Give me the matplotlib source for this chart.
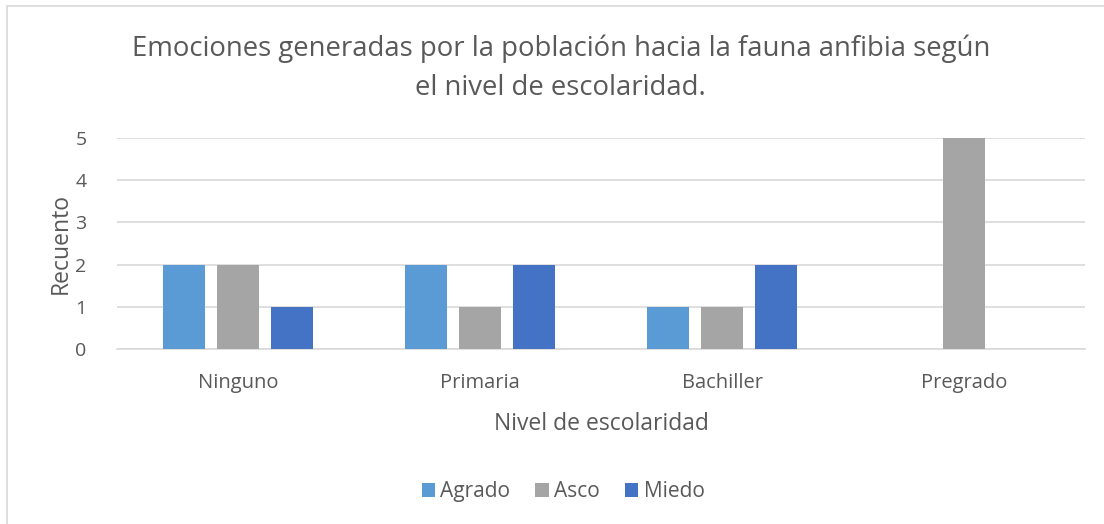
import numpy as np
import matplotlib
matplotlib.use("Agg")
import matplotlib.pyplot as plt
from matplotlib.patches import Rectangle

categories = ["Ninguno", "Primaria", "Bachiller", "Pregrado"]
series = ["Agrado", "Asco", "Miedo"]
agrado = [2, 2, 1, 0]
asco = [2, 1, 1, 5]
miedo = [1, 2, 2, 0]
yticks = [0, 1, 2, 3, 4, 5]

colors = ["#5B9BD5", "#A5A5A5", "#4472C4"]
txt = "#595959"

plt.rcParams['font.family'] = ['Open Sans', 'DejaVu Sans']

fig = plt.figure(figsize=(11.04, 5.24), dpi=100)
ax = fig.add_axes([0.106, 0.334, 0.877, 0.403])

x = np.arange(len(categories))
w = 0.174
offs = [-0.223, 0.0, 0.223]
for vals, off, c, name in zip([agrado, asco, miedo], offs, colors, series):
    ax.bar(x + off, vals, width=w, color=c, label=name, zorder=3)

ax.set_xlim(-0.5, len(categories) - 0.5)
ax.set_ylim(0, 5)
ax.set_yticks(yticks)
ax.set_xticks(x)
ax.set_xticklabels(categories)
ax.tick_params(length=0, colors=txt)
ax.tick_params(axis='x', pad=17, labelsize=14.5)
ax.tick_params(axis='y', pad=22, labelsize=14)
ax.grid(axis='y', color="#D9D9D9", lw=1.2, zorder=0)
for s in ["top", "right", "left"]:
    ax.spines[s].set_visible(False)
ax.spines["bottom"].set_color("#D9D9D9")
ax.spines["bottom"].set_linewidth(1.2)

ax.set_ylabel("Recuento", fontsize=16.5, color=txt, labelpad=2)
ax.set_xlabel("Nivel de escolaridad", fontsize=16.5, color=txt, labelpad=14)

fig.text(0.508, 0.870, "Emociones generadas por la población hacia la fauna anfibia según\nel nivel de escolaridad.",
         ha="center", va="center", fontsize=19.8, color=txt, linespacing=1.52)

leg = fig.legend(loc="center", bbox_to_anchor=(0.51, 0.062), ncol=3, frameon=False,
                 fontsize=15, handlelength=0.65, handleheight=0.65, handletextpad=0.25,
                 columnspacing=1.2)
for t in leg.get_texts():
    t.set_color(txt)

fig.patches.append(Rectangle((0.0065, -0.01), 1.0, 0.999, transform=fig.transFigure,
                             fill=False, edgecolor="#D9D9D9", lw=1.2))

fig.savefig("out.png", dpi=100)
